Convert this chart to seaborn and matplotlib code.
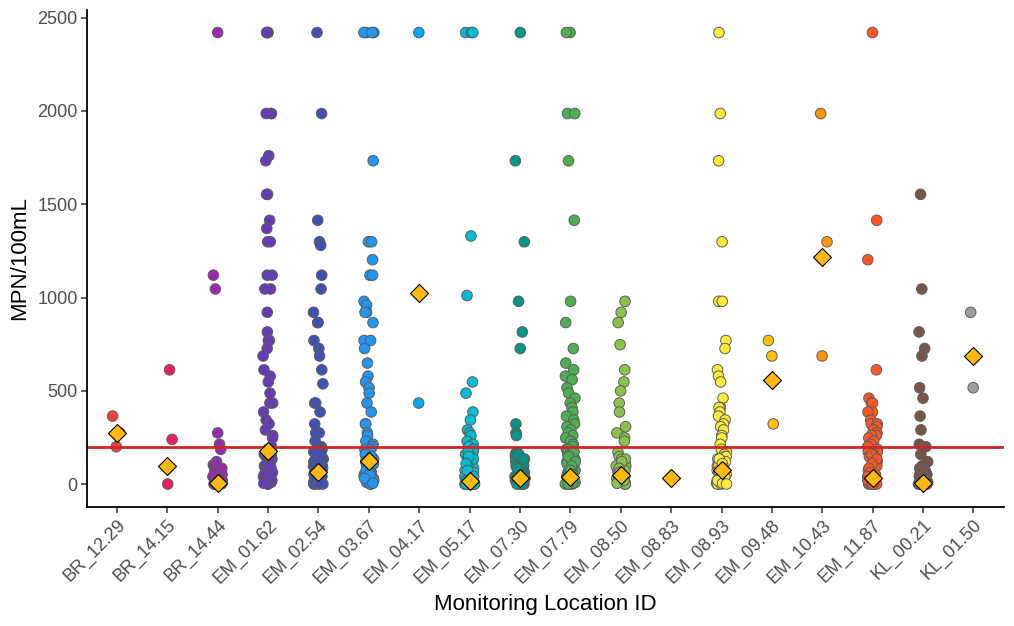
import matplotlib
matplotlib.use("Agg")
import matplotlib.pyplot as plt
import numpy as np
import pandas as pd
import seaborn as sns

# monitoring locations, in axis order
sites = [
    "BR_12.29", "BR_14.15", "BR_14.44", "EM_01.62", "EM_02.54", "EM_03.67",
    "EM_04.17", "EM_05.17", "EM_07.30", "EM_07.79", "EM_08.50", "EM_08.83",
    "EM_08.93", "EM_09.48", "EM_10.43", "EM_11.87", "KL_00.21", "KL_01.50",
]

site_colors = [
    "#F44336", "#E91E63", "#9C27B0", "#673AB7", "#3F51B5", "#2196F3",
    "#03A9F4", "#00BCD4", "#009688", "#4CAF50", "#8BC34A", "#CDDC39",
    "#FFEB3B", "#FFC107", "#FF9800", "#FF5722", "#795548", "#9E9E9E",
]

# MPN/100mL samples per location
br_12_29 = [365, 275, 201]
br_14_15 = [613, 240, 1]
br_14_44 = [2420, 1120, 1046, 275, 214, 187, 121, 104, 98, 85, 74, 63, 52, 41,
            31, 20, 10, 5, 3, 1, 1, 1, 1, 1, 1]
em_01_62 = [2420, 2420, 2420, 2420, 1986, 1986, 1986, 1760, 1733, 1553, 1553,
            1414, 1370, 1299, 1299, 1120, 1120, 1046, 1046, 921, 816, 770, 770,
            727, 687, 613, 579, 548, 488, 435, 435, 387, 344, 323, 291, 261,
            248, 201, 187, 173, 160, 148, 135, 121, 110, 98, 85, 74, 63, 52,
            41, 31, 20, 10, 5, 1, 160, 135, 110, 85, 63, 41, 20, 10, 1, 148,
            98, 52, 31, 5]
em_02_54 = [2420, 1986, 1414, 1299, 1280, 1120, 1046, 921, 866, 866, 770, 727,
            687, 613, 538, 435, 435, 387, 323, 275, 275, 231, 201, 187, 173,
            160, 148, 135, 121, 110, 98, 85, 74, 63, 52, 41, 31, 20, 10, 5, 1,
            1, 173, 148, 121, 98, 74, 52, 31, 10, 1, 160, 110, 63, 20, 5, 1]
em_03_67 = [2420, 2420, 2420, 2420, 1733, 1299, 1299, 1203, 1120, 1120, 980,
            960, 921, 921, 866, 770, 770, 727, 649, 579, 548, 517, 488, 435,
            387, 323, 323, 275, 261, 231, 214, 201, 187, 173, 160, 148, 135,
            121, 110, 98, 85, 74, 63, 52, 41, 31, 20, 10, 5, 1, 187, 160, 135,
            110, 85, 63, 41, 20, 10, 1, 148, 121, 98, 74, 52, 31, 5]
em_04_17 = [2420, 435]
em_05_17 = [2420, 2420, 2420, 1330, 1011, 548, 488, 387, 344, 291, 275, 261,
            231, 214, 201, 187, 173, 160, 148, 135, 121, 110, 98, 85, 74, 63,
            52, 41, 31, 20, 10, 5, 1, 1, 1, 1, 1, 1, 173, 135, 98, 63, 31, 10,
            1, 1, 1, 148, 110, 74, 41, 20, 5, 1, 1]
em_07_30 = [2420, 1733, 1299, 980, 816, 727, 323, 275, 261, 173, 160, 148, 135,
            121, 110, 98, 85, 74, 63, 52, 41, 31, 20, 10, 5, 1, 1, 1, 160, 121,
            98, 63, 41, 20, 10, 1, 1, 135, 85, 52, 31, 5, 1]
em_07_79 = [2420, 2420, 1986, 1986, 1733, 1414, 980, 866, 727, 649, 613, 579,
            560, 517, 488, 461, 435, 411, 387, 365, 344, 323, 308, 291, 275,
            261, 248, 231, 214, 201, 187, 173, 160, 148, 135, 121, 110, 98, 85,
            74, 63, 52, 41, 31, 20, 10, 5, 1, 1, 1, 187, 160, 135, 110, 85, 63,
            41, 20, 10, 1, 1, 173, 148, 121, 98, 74, 52, 31, 5, 1]
em_08_50 = [980, 921, 866, 748, 613, 548, 500, 435, 387, 308, 275, 248, 231,
            173, 148, 135, 121, 110, 98, 85, 74, 63, 52, 41, 31, 20, 10, 5, 1,
            1, 135, 98, 74, 52, 31, 10, 1, 121, 85, 63, 41, 20, 5]
em_08_83 = [36]
em_08_93 = [2420, 1986, 1733, 1299, 980, 980, 770, 727, 613, 579, 548, 461,
            411, 411, 387, 365, 344, 323, 308, 291, 261, 248, 214, 187, 173,
            160, 148, 135, 121, 110, 98, 85, 74, 63, 52, 41, 31, 20, 10, 5, 1,
            1, 148, 121, 98, 74, 52, 31, 10, 1, 135, 110, 85, 63, 41, 20, 5, 1]
em_09_48 = [770, 687, 323]
em_10_43 = [1986, 1299, 687]
em_11_87 = [2420, 1414, 1203, 613, 461, 435, 435, 387, 387, 344, 323, 323, 308,
            291, 275, 261, 261, 248, 231, 214, 201, 187, 173, 160, 148, 135,
            121, 110, 98, 85, 74, 63, 52, 41, 31, 20, 10, 5, 1, 1, 1, 173, 148,
            121, 98, 74, 52, 31, 10, 1, 1, 160, 135, 110, 85, 63, 41, 20, 5, 1]
kl_00_21 = [1553, 1046, 816, 727, 687, 517, 461, 365, 291, 214, 201, 160, 121,
            98, 85, 74, 63, 52, 41, 31, 20, 10, 5, 1, 1, 1, 1, 1, 1, 74, 52,
            31, 20, 10, 5, 1, 1, 1, 1]
kl_01_50 = [921, 517]

# geometric mean per location (diamonds)
geo_means = [272, 99, 5, 176, 68, 127, 1027, 19, 36, 41, 50, 36, 74, 556, 1215,
             36, 9, 689]

threshold = 200

samples = [br_12_29, br_14_15, br_14_44, em_01_62, em_02_54, em_03_67,
           em_04_17, em_05_17, em_07_30, em_07_79, em_08_50, em_08_83,
           em_08_93, em_09_48, em_10_43, em_11_87, kl_00_21, kl_01_50]

df = pd.DataFrame(
    [(s, v) for s, vals in zip(sites, samples) for v in vals],
    columns=["site", "mpn"],
)
gm = pd.DataFrame({"site": sites, "geomean": geo_means})

sns.set_style("ticks")
plt.rcParams["font.family"] = ["Liberation Sans", "DejaVu Sans"]

np.random.seed(7)
fig = plt.figure(figsize=(10.14, 6.26), dpi=100)
ax = fig.add_axes([0.0855, 0.1904, 0.9043, 0.7936])

sns.stripplot(
    data=df, x="site", y="mpn", hue="site", order=sites, hue_order=sites,
    palette=site_colors, jitter=0.1, size=7.6, linewidth=0.7,
    edgecolor="#5c5c5c", legend=False, zorder=1, ax=ax,
)
ax.axhline(threshold, color="#CD2626", linewidth=2.0, zorder=2.5)
sns.pointplot(
    data=gm, x="site", y="geomean", order=sites, errorbar=None,
    markers="D", linestyle="none", color="#FFB90F", markersize=9,
    markerfacecolor="#FFB90F", markeredgecolor="black", markeredgewidth=0.8,
    zorder=3, ax=ax,
)

ax.set_xlim(-0.6, len(sites) - 0.4)
ax.set_ylim(-121, 2540.6)
ax.set_yticks([0, 500, 1000, 1500, 2000, 2500])
ax.set_xlabel("Monitoring Location ID", fontsize=16, color="black", labelpad=5)
ax.set_ylabel("MPN/100mL", fontsize=16, color="black", labelpad=5)

ax.tick_params(axis="both", labelsize=13, labelcolor="#4D4D4D", color="#333333",
               length=4.5, width=1.1)
ax.tick_params(axis="y", pad=2)
ax.tick_params(axis="x", pad=2.5)
for lab in ax.get_xticklabels():
    lab.set_rotation(45)
    lab.set_ha("right")
    lab.set_va("top")
    lab.set_rotation_mode("anchor")

for side in ["top", "right"]:
    ax.spines[side].set_visible(False)
for side in ["left", "bottom"]:
    ax.spines[side].set_linewidth(1.3)
    ax.spines[side].set_color("black")

fig.savefig("out.png", dpi=100)
